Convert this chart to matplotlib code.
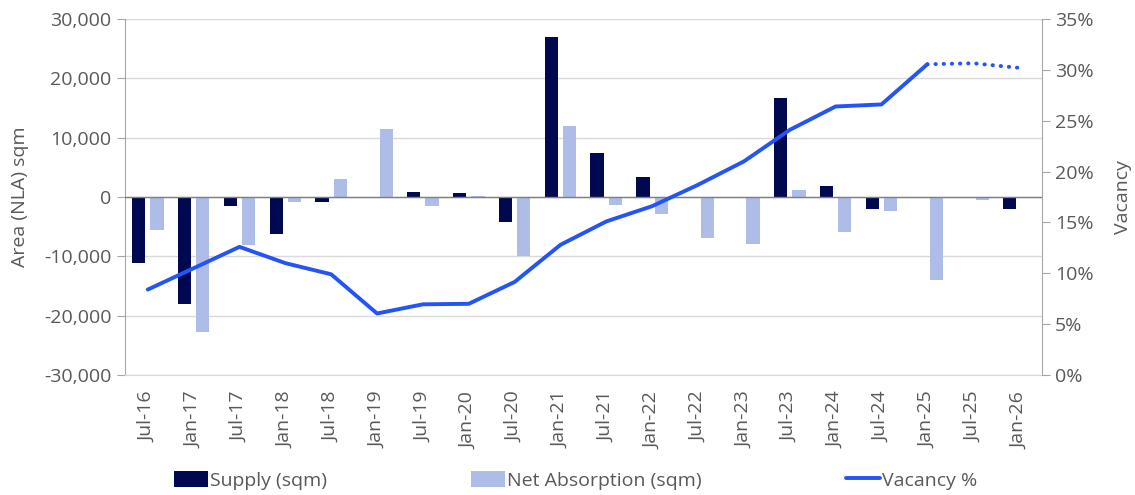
import matplotlib
matplotlib.use("Agg")
import matplotlib.pyplot as plt
import numpy as np
from matplotlib.ticker import FuncFormatter, MultipleLocator

plt.rcParams['font.family'] = ['Open Sans', 'DejaVu Sans']

categories = ["Jul-16", "Jan-17", "Jul-17", "Jan-18", "Jul-18", "Jan-19", "Jul-19", "Jan-20",
              "Jul-20", "Jan-21", "Jul-21", "Jan-22", "Jul-22", "Jan-23", "Jul-23", "Jan-24",
              "Jul-24", "Jan-25", "Jul-25", "Jan-26"]
supply = [-11100, -18000, -1450, -6300, -850, 0, 850, 730, -4150, 26900, 7400, 3300,
          0, 0, 16650, 1900, -2100, 0, 0, -2000]
absorption = [-5600, -22750, -8100, -850, 3100, 11500, -1500, 220, -9900, 11900, -1300, -2850,
              -6950, -7950, 1200, -5850, -2350, -14050, -450, -170]
vacancy = [8.4, 10.5, 12.6, 11.0, 9.9, 6.05, 6.95, 7.0, 9.15, 12.8, 15.1, 16.6,
           18.7, 21.0, 24.1, 26.4, 26.6, 30.55, 30.65, 30.2]
forecast_start = 17  # Jan-25 onward dotted

NAVY = "#00084F"
LIGHT = "#AEBDE8"
LINE = "#2354F5"
GRAY = "#595959"
GRID = "#D9D9D9"
SPINE = "#A6A6A6"
FS = 14

fig = plt.figure(figsize=(11.35, 4.95), dpi=100)
ax = fig.add_axes([0.110, 0.2424, 0.808, 0.7192])
x = np.arange(len(categories))
w = 0.29
ax.bar(x - 0.2, supply, width=w, color=NAVY, label="Supply (sqm)", zorder=3)
ax.bar(x + 0.2, absorption, width=w, color=LIGHT, label="Net Absorption (sqm)", zorder=3)
ax.set_xlim(-0.5, len(categories) - 0.5)
ax.set_ylim(-30000, 30000)
ax.yaxis.set_major_locator(MultipleLocator(10000))
ax.yaxis.set_major_formatter(FuncFormatter(lambda v, p: f"{int(v):,}"))
ax.grid(axis='y', color=GRID, linewidth=1.0, zorder=0)
ax.axhline(0, color="#7F7F7F", linewidth=1.0, zorder=4)
ax.set_xticks(x)
ax.set_xticklabels(categories, rotation=90, fontsize=FS, color=GRAY)
ax.tick_params(axis='x', length=0, pad=12)
ax.tick_params(axis='y', labelsize=FS, labelcolor=GRAY, color=SPINE, length=6, direction='out')
for s in ['top', 'right']:
    ax.spines[s].set_visible(False)
ax.spines['bottom'].set_color(GRID)
ax.spines['left'].set_color(SPINE)
ax.set_ylabel("Area (NLA) sqm", fontsize=FS, color=GRAY)
ax.yaxis.set_label_coords(-0.104, 0.5)

ax2 = ax.twinx()
ax2.set_ylim(0, 35)
ax2.yaxis.set_major_locator(MultipleLocator(5))
ax2.yaxis.set_major_formatter(FuncFormatter(lambda v, p: f"{int(v)}%"))
ax2.tick_params(axis='y', labelsize=FS, labelcolor=GRAY, color=SPINE, length=6, direction='out')
for s in ['top', 'left', 'bottom']:
    ax2.spines[s].set_visible(False)
ax2.spines['right'].set_color(SPINE)
ax2.set_ylabel("Vacancy", fontsize=FS, color=GRAY)
ax2.yaxis.set_label_coords(1.079, 0.5)
ax2.plot(x[:forecast_start + 1], vacancy[:forecast_start + 1], color=LINE, linewidth=2.8,
         solid_capstyle='round', label="Vacancy %", zorder=5)
ax2.plot(x[forecast_start:], vacancy[forecast_start:], color=LINE, linewidth=2.8,
         linestyle=(0, (0.1, 2.0)), dash_capstyle='round', zorder=5)

h1, l1 = ax.get_legend_handles_labels()
h2, l2 = ax2.get_legend_handles_labels()
leg = fig.legend(h1 + h2[:1], l1 + l2[:1], loc='center', bbox_to_anchor=(0.507, 0.03),
                 ncol=3, frameon=False, fontsize=FS, handlelength=1.75, handleheight=0.95,
                 handletextpad=0.12, columnspacing=7.4)
for t in leg.get_texts():
    t.set_color(GRAY)

fig.savefig("out.png", dpi=100)
